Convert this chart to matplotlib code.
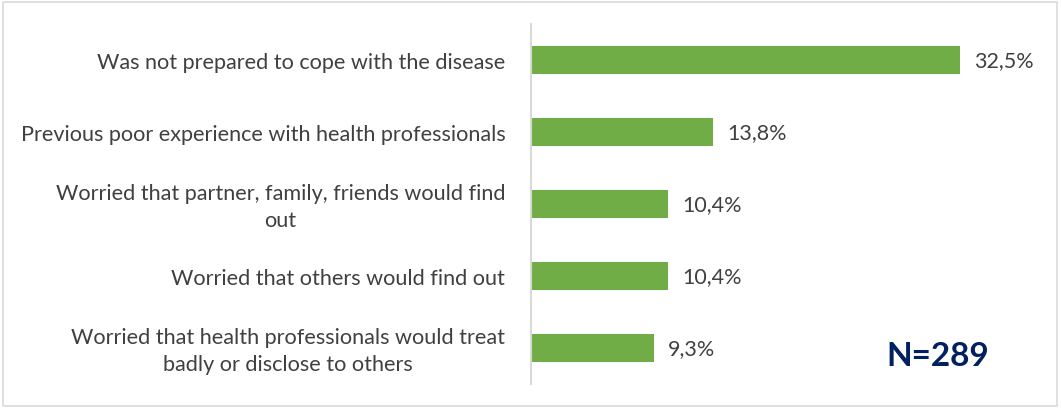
import matplotlib
matplotlib.use("Agg")
import matplotlib.pyplot as plt
from matplotlib.patches import Rectangle

categories = [
    "Was not prepared to cope with the disease",
    "Previous poor experience with health professionals",
    "Worried that partner, family, friends would find\nout",
    "Worried that others would find out",
    "Worried that health professionals would treat\nbadly or disclose to others",
]
values = [32.5, 13.8, 10.4, 10.4, 9.3]
value_labels = ["32,5%", "13,8%", "10,4%", "10,4%", "9,3%"]
sample_note = "N=289"

W, H = 1061, 410
fig = plt.figure(figsize=(W / 100, H / 100), dpi=100)
plt.rcParams["font.family"] = ["Lato", "DejaVu Sans"]

# outer chart frame
fig.patches.append(Rectangle((3 / W, 3 / H), 1054 / W, 404 / H, transform=fig.transFigure,
                             fill=False, edgecolor="#D9D9D9", linewidth=1.2))

ax = fig.add_axes([531 / W, 1 - 385 / H, (993 - 531) / W, 360 / H])
y = list(range(len(categories)))
ax.barh(y, values, height=0.39, color="#70AD47")
ax.set_xlim(0, 35)
ax.set_ylim(len(categories) - 0.5, -0.5)

for yi, v, lab in zip(y, values, value_labels):
    ax.text(v + 1.05, yi, lab, va="center", ha="left", fontsize=15.5, color="#404040")

for yi, cat in zip(y, categories):
    ax.text(-1.95, yi + 0.03, cat, va="center", ha="right", multialignment="center",
            fontsize=15.6, color="#404040", linespacing=1.45)

ax.set_xticks([])
ax.set_yticks([])
for s in ["top", "right", "bottom"]:
    ax.spines[s].set_visible(False)
ax.spines["left"].set_color("#D9D9D9")
ax.spines["left"].set_linewidth(1.5)

fig.text(938 / W, 1 - 357 / H, sample_note, ha="center", va="center",
         fontsize=24, fontweight="bold", color="#002060")

fig.savefig("out.png", dpi=100)
